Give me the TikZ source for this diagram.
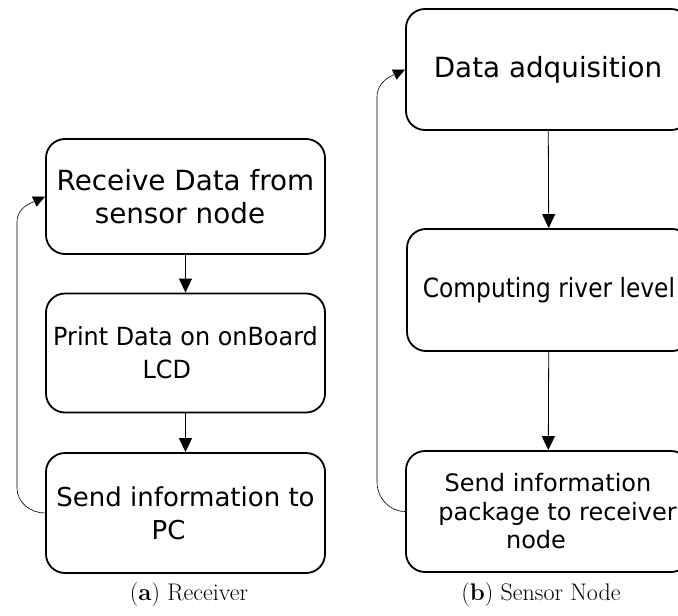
\documentclass[tikz,border=0pt]{standalone}
\usepackage{fontspec}
\newfontfamily\boxfont{DejaVu Sans}
\newfontfamily\narrowfont[FakeStretch=0.956]{DejaVu Sans}
\newfontfamily\narrowerfont[FakeStretch=0.88]{DejaVu Sans}
\usetikzlibrary{arrows.meta}

\begin{document}
\begin{tikzpicture}[x=1pt,y=-1pt]
\tikzset{box style/.style = {draw, line width=1.8pt, rounded corners=19pt, align=center, inner sep=0pt},
  flow style/.style = {line width=0.8pt, -{Triangle[length=14pt,width=13pt]}},
  loop style/.style = {line width=0.6pt, -{Triangle[length=12pt,width=11pt]}},
  cap style/.style = {font=\fontsize{24}{28}\selectfont}}
\clip (0,0) rectangle (678,616);
\node[box style, minimum width=279pt, minimum height=115pt, font=\boxfont\fontsize{27.8}{33}\selectfont] (rx1) at (185.5,196.5) {Receive Data from\\sensor node\hspace*{0.4em}};
\node[box style, minimum width=279pt, minimum height=119pt, font=\narrowfont\fontsize{25}{33}\selectfont] (rx2) at (185.5,353) {Print Data on onBoard\\LCD\hspace*{1.5em}};
\node[box style, minimum width=279pt, minimum height=120pt, font=\boxfont\fontsize{26}{33}\selectfont] (rx3) at (185.5,513) {Send information to\\PC\hspace*{1.3em}};
\node[box style, minimum width=284pt, minimum height=121pt, font=\boxfont\fontsize{27.8}{33}\selectfont] (sn1) at (548,69.5) {Data adquisition};
\node[box style, minimum width=284pt, minimum height=122pt, font=\narrowerfont\fontsize{26.5}{30}\selectfont] (sn2) at (549,290) {Computing river level};
\node[box style, minimum width=284pt, minimum height=121pt, font=\boxfont\fontsize{24}{28.5}\selectfont] (sn3) at (548,511.5) {Send information\\\hspace*{0.8em}package to receiver\\node\hspace*{1em}};
\draw[flow style] (rx1) -- (rx2);
\draw[flow style] (rx2) -- (rx3);
\draw[flow style] (sn1) -- (sn2);
\draw[flow style] (sn2) -- (sn3);
\coordinate (rxbot) at (17,488);
\coordinate (rxtop) at (17,222);
\coordinate (snbot) at (377,482);
\coordinate (sntop) at (377,97);
\draw[loop style] (rx3.west) to[out=180,in=-90] (rxbot) -- (rxtop) to[out=90,in=205] (rx1.west);
\draw[loop style] (sn3.west) to[out=180,in=-90] (snbot) -- (sntop) to[out=90,in=205] (sn1.west);
\node[cap style] (capa) at (189,595) {(\textbf{a}) Receiver};
\node[cap style] (capb) at (541,595) {(\textbf{b}) Sensor Node};
\end{tikzpicture}
\end{document}
